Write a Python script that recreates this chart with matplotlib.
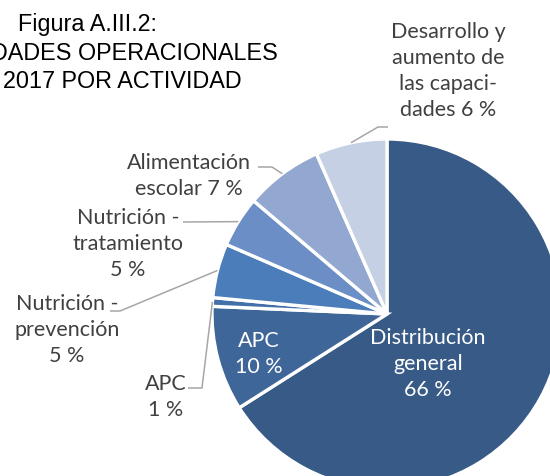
import numpy as np
import matplotlib
matplotlib.use("Agg")
import matplotlib.pyplot as plt

# ---- data ----
categories = ["Distribución general", "APC", "APC", "Nutrición - prevención",
              "Nutrición - tratamiento", "Alimentación escolar",
              "Desarrollo y aumento de las capacidades"]
values = [66.0, 9.7, 0.8, 5.0, 4.7, 7.2, 6.6]
label_texts = ["Distribución\ngeneral\n66 %", "APC\n10 %", "APC\n1 %",
               "Nutrición -\nprevención\n5 %", "Nutrición -\ntratamiento\n5 %",
               "Alimentación\nescolar 7 %", "Desarrollo y\naumento de\nlas capaci-\ndades 6 %"]
colors = ["#375A86", "#3F6699", "#4470AA", "#4A7DBA", "#6A8EC5", "#93A8D0", "#C6D0E4"]
title_lines = ["Figura A.III.2:", "DADES OPERACIONALES", "2017 POR ACTIVIDAD"]

W, H = 550, 477
fig = plt.figure(figsize=(W / 100, H / 100), dpi=100)
ax = fig.add_axes([0, 0, 1, 1])

def P(x, y):
    return x, H - y

cx, cy = P(387, 315)
R = 175
wedges, _ = ax.pie(values, colors=colors, startangle=90, counterclock=False,
                   center=(cx, cy), radius=R, frame=True,
                   wedgeprops=dict(edgecolor="white", linewidth=2.4))
ax.set_xlim(0, W)
ax.set_ylim(0, H)
ax.set_aspect("equal")
ax.axis("off")

lab_font = dict(family="Lato", fontsize=15.5)
gray = "#404040"
# label centers (pixel coords) and leader elbows
label_pos = [(428, 364), (259, 354), (166, 397), (67, 330), (128, 244), (189, 176), (448, 71)]
inside = [True, True, False, False, False, False, False]
leader = {2: [(188, 389), (202, 389)], 3: [(110, 312), (120, 312)],
          4: [(183, 223)], 5: [(258, 168), (272, 168)], 6: [(388, 128), (378, 128)]}

for i, (w, txt) in enumerate(zip(wedges, label_texts)):
    x, y = P(*label_pos[i])
    ax.text(x, y, txt, ha="center", va="center", multialignment="center",
            color="white" if inside[i] else gray, linespacing=1.38, **lab_font)
    if i in leader:
        mid = np.deg2rad((w.theta1 + w.theta2) / 2)
        ex, ey = cx + R * np.cos(mid), cy + R * np.sin(mid)
        pts = [P(*p) for p in leader[i]] + [(ex, ey)]
        ax.plot([p[0] for p in pts], [p[1] for p in pts], color="#A6A6A6", lw=1.1,
                solid_capstyle="butt")

# title (left part of the original title lies outside the reference crop)
tfont = dict(family="Liberation Sans", fontsize=16.8, color="black")
ax.text(87, H - 25, title_lines[0], ha="center", va="center", **tfont)
ax.text(278, H - 53, title_lines[1], ha="right", va="center", **tfont)
ax.text(242, H - 81, title_lines[2], ha="right", va="center", **tfont)

fig.savefig("out.png", dpi=100)
